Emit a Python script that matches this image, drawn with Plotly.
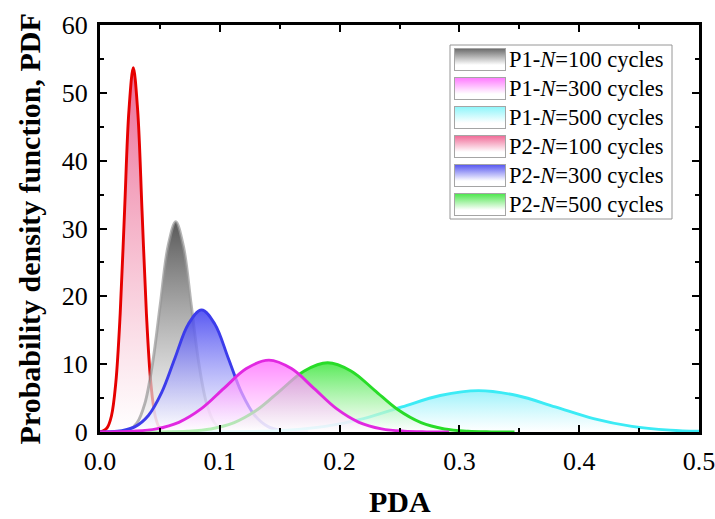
import base64
import plotly.graph_objects as go

# ---- data (PDA vs PDF) ----
x_p2_100 = [0.0, 0.00225, 0.0059, 0.00955, 0.0132, 0.01685, 0.0205, 0.02415, 0.0278,
            0.03145, 0.0351, 0.03875, 0.0424, 0.04605, 0.0497, 0.05335, 0.057]
y_p2_100 = [0.04, 0.12, 0.60, 2.36, 7.27, 17.44, 32.57, 47.39, 53.7,
            47.39, 32.57, 17.44, 7.27, 2.36, 0.60, 0.12, 0.02]

x_p1_100 = [0.0116, 0.01805, 0.0245, 0.03095, 0.0374, 0.04385, 0.0503, 0.05675, 0.0632,
            0.06965, 0.0761, 0.08255, 0.089, 0.09545, 0.1019, 0.10835, 0.1148]
y_p1_100 = [0.01, 0.07, 0.34, 1.36, 4.19, 10.07, 18.80, 27.36, 31.0,
            27.36, 18.80, 10.07, 4.19, 1.36, 0.34, 0.07, 0.01]

x_p2_300 = [0.0, 0.0071, 0.0182, 0.0293, 0.0404, 0.0515, 0.0626, 0.0737, 0.0848,
            0.0959, 0.107, 0.1181, 0.1292, 0.1403, 0.1514, 0.1625, 0.1736]
y_p2_300 = [0.01, 0.04, 0.20, 0.79, 2.44, 5.84, 10.92, 15.89, 18.0,
            15.89, 10.92, 5.84, 2.44, 0.79, 0.20, 0.04, 0.01]

x_p1_300 = [0.0, 0.0094, 0.0282, 0.047, 0.0658, 0.0846, 0.1034, 0.1222, 0.141,
            0.1598, 0.1786, 0.1974, 0.2162, 0.235, 0.2538, 0.2726, 0.2914]
y_p1_300 = [0.01, 0.02, 0.12, 0.47, 1.43, 3.44, 6.43, 9.35, 10.6,
            9.35, 6.43, 3.44, 1.43, 0.47, 0.12, 0.02, 0.0]

x_p2_500 = [0.034, 0.0535, 0.073, 0.0925, 0.112, 0.1315, 0.151, 0.1705, 0.19,
            0.2095, 0.229, 0.2485, 0.268, 0.2875, 0.307, 0.3265, 0.346]
y_p2_500 = [0.0, 0.02, 0.11, 0.45, 1.38, 3.31, 6.19, 9.0, 10.2,
            9.0, 6.19, 3.31, 1.38, 0.45, 0.11, 0.02, 0.0]

x_p1_500 = [0.06, 0.092, 0.124, 0.156, 0.188, 0.22, 0.252, 0.284, 0.316,
            0.348, 0.38, 0.412, 0.444, 0.476, 0.5]
y_p1_500 = [0.0, 0.01, 0.07, 0.27, 0.83, 1.98, 3.70, 5.38, 6.1,
            5.38, 3.70, 1.98, 0.83, 0.27, 0.10]

x_ticks = [0.0, 0.1, 0.2, 0.3, 0.4, 0.5]
x_tick_labels = ["0.0", "0.1", "0.2", "0.3", "0.4", "0.5"]
y_ticks = [0, 10, 20, 30, 40, 50, 60]
x_range = [0, 0.5]
y_range = [0, 60]

legend_names = ["P1-<i>N</i>=100 cycles", "P1-<i>N</i>=300 cycles", "P1-<i>N</i>=500 cycles",
                "P2-<i>N</i>=100 cycles", "P2-<i>N</i>=300 cycles", "P2-<i>N</i>=500 cycles"]
legend_swatch_colors = ["rgb(105,105,105)", "rgb(255,120,255)", "rgb(140,245,250)",
                        "rgb(240,105,150)", "rgb(85,85,240)", "rgb(75,230,75)"]

# (legend index, x, y, line colour, fill top colour) in drawing order
series = [
    (3, x_p2_100, y_p2_100, "rgb(230,0,0)", "rgba(232,80,130,0.85)"),
    (0, x_p1_100, y_p1_100, "rgba(150,150,150,0.7)", "rgba(70,70,70,0.9)"),
    (4, x_p2_300, y_p2_300, "rgb(60,60,235)", "rgba(60,60,240,0.85)"),
    (2, x_p1_500, y_p1_500, "rgb(60,235,245)", "rgba(140,240,250,0.85)"),
    (5, x_p2_500, y_p2_500, "rgb(40,220,40)", "rgba(60,230,60,0.85)"),
    (1, x_p1_300, y_p1_300, "rgb(225,40,225)", "rgba(255,100,255,0.75)"),
]

fig = go.Figure()
for idx, xs, ys, lc, fc in series:
    fig.add_trace(go.Scatter(
        x=xs, y=ys, name=legend_names[idx], mode="lines",
        line=dict(color=lc, width=2.9, shape="spline", smoothing=1.0),
        fill="tozeroy",
        fillgradient=dict(type="vertical",
                          colorscale=[[0, "rgba(255,255,255,0.65)"], [1, fc]]),
        showlegend=False,
    ))

# empty helper trace so the mirrored top/right axes get drawn
fig.add_trace(go.Scatter(x=[], y=[], xaxis="x2", yaxis="y2", showlegend=False,
                         hoverinfo="skip"))

font_family = "Liberation Serif, Times New Roman, serif"
tick_common = dict(
    showline=True, linecolor="black", linewidth=3,
    ticks="inside", ticklen=7, tickwidth=2, tickcolor="black",
    showgrid=False, zeroline=False, automargin=False,
    tickfont=dict(family=font_family, size=26, color="black"),
)
xminor = dict(ticks="inside", ticklen=4, tickwidth=2, dtick=0.05, tickcolor="black")
yminor = dict(ticks="inside", ticklen=4, tickwidth=2, dtick=5, tickcolor="black")

fig.update_layout(
    xaxis=dict(range=x_range, tickvals=x_ticks, ticktext=x_tick_labels,
               minor=xminor, ticklabelstandoff=4, ticklabeloverflow="allow",
               **tick_common),
    yaxis=dict(range=y_range, tickvals=y_ticks, minor=yminor,
               ticklabelstandoff=4, ticklabeloverflow="allow", **tick_common),
    xaxis2=dict(range=x_range, tickvals=x_ticks, showticklabels=False,
                overlaying="x", side="top", anchor="y", minor=xminor, **tick_common),
    yaxis2=dict(range=y_range, tickvals=y_ticks, showticklabels=False,
                overlaying="y", side="right", anchor="x", minor=yminor, **tick_common),
)

plot_w, plot_h = 599.0, 407.0
def px_x(p):
    return (p - 100) / plot_w
def px_y(p):
    return (432 - p) / plot_h

# axis titles
fig.add_annotation(text="<b>PDA</b>", xref="paper", yref="paper", x=0.5, y=px_y(519),
                   xanchor="center", yanchor="bottom", showarrow=False, borderpad=0,
                   font=dict(family=font_family, size=30, color="black"))
fig.add_annotation(text="<b>Probability density function, PDF</b>", xref="paper",
                   yref="paper", x=-0.117, y=0.5, xanchor="center", yanchor="middle",
                   textangle=-90, showarrow=False,
                   font=dict(family=font_family, size=30, color="black"))

# ---- legend box with gradient swatches ----
fig.add_shape(type="rect", xref="paper", yref="paper",
              x0=px_x(450), x1=px_x(672), y0=px_y(219), y1=px_y(45),
              line=dict(color="rgb(150,150,150)", width=1),
              fillcolor="rgba(255,255,255,0)", layer="below")

def swatch(color):
    svg = ('<svg xmlns="http://www.w3.org/2000/svg" width="52" height="23" '
           'viewBox="0 0 52 23" preserveAspectRatio="none">'
           '<defs><linearGradient id="g" x1="0" y1="0" x2="0" y2="1">'
           f'<stop offset="0" stop-color="{color}"/>'
           '<stop offset="0.75" stop-color="white"/>'
           '<stop offset="1" stop-color="white"/></linearGradient></defs>'
           '<rect x="0.5" y="0.5" width="51" height="22" fill="url(#g)" '
           'stroke="rgb(165,165,165)" stroke-width="1"/></svg>')
    return "data:image/svg+xml;base64," + base64.b64encode(svg.encode()).decode()

row_h = 29
for i, (nm, col) in enumerate(zip(legend_names, legend_swatch_colors)):
    top = 48 + row_h * i
    fig.add_layout_image(source=swatch(col), xref="paper", yref="paper",
                         x=px_x(454), y=px_y(top), sizex=52 / plot_w, sizey=23 / plot_h,
                         xanchor="left", yanchor="top", sizing="stretch", layer="above",
                         opacity=1)
    fig.add_annotation(text=nm, xref="paper", yref="paper", x=px_x(507),
                       y=px_y(top + 11.5), xanchor="left", yanchor="middle",
                       showarrow=False,
                       font=dict(family=font_family, size=22.5, color="black"))

fig.update_layout(
    width=715, height=519,
    margin=dict(l=100, r=16, t=25, b=87),
    plot_bgcolor="white", paper_bgcolor="white",
    font=dict(family=font_family, color="black"),
    showlegend=False,
)
fig.write_html("out.html", config={"displayModeBar": False},
               post_script="document.body.style.margin='0';document.body.style.padding='0';")
